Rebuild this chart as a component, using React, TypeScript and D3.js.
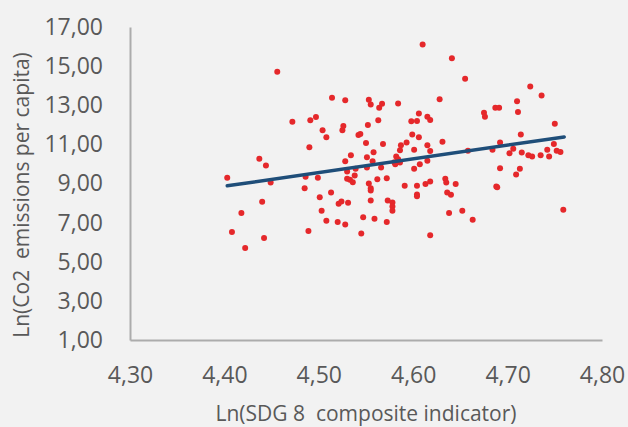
import { useEffect, useRef } from 'react'
import * as d3 from 'd3'

// Ln(SDG 8 composite indicator)
const sdgValues = [
  4.403, 4.408, 4.418, 4.422, 4.437, 4.440, 4.442, 4.444, 4.449, 4.456,
  4.472, 4.485, 4.486, 4.489, 4.490, 4.491, 4.497, 4.499, 4.501, 4.503,
  4.504, 4.508, 4.508, 4.513, 4.514, 4.520, 4.521, 4.524, 4.525, 4.526,
  4.528, 4.528, 4.528, 4.530, 4.530, 4.531, 4.533, 4.534, 4.536, 4.538,
  4.539, 4.542, 4.544, 4.545, 4.547, 4.550, 4.551, 4.551, 4.552, 4.553,
  4.553, 4.555, 4.555, 4.555, 4.555, 4.557, 4.558, 4.559, 4.562, 4.563,
  4.564, 4.566, 4.567, 4.568, 4.572, 4.572, 4.573, 4.578, 4.578, 4.578,
  4.580, 4.581, 4.582, 4.584, 4.584, 4.586, 4.586, 4.587, 4.591, 4.593,
  4.598, 4.599, 4.601, 4.601, 4.604, 4.604, 4.604, 4.604, 4.606, 4.606,
  4.607, 4.610, 4.613, 4.615, 4.615, 4.615, 4.618, 4.618, 4.618, 4.618,
  4.628, 4.631, 4.634, 4.635, 4.636, 4.638, 4.640, 4.641, 4.645, 4.652,
  4.655, 4.658, 4.663, 4.675, 4.676, 4.684, 4.687, 4.688, 4.689, 4.691,
  4.692, 4.692, 4.702, 4.706, 4.709, 4.710, 4.711, 4.713, 4.714, 4.715,
  4.722, 4.724, 4.726, 4.735, 4.736, 4.742, 4.744, 4.749, 4.750, 4.752,
  4.756, 4.759,
]

// Ln(Co2 emissions per capita)
const co2Values = [
  9.29, 6.52, 7.49, 5.70, 10.26, 8.07, 6.21, 9.92, 9.05, 14.71,
  12.16, 8.76, 9.34, 6.57, 10.85, 12.23, 12.40, 9.29, 8.30, 7.61,
  11.72, 11.36, 7.10, 8.54, 13.38, 7.03, 7.96, 8.08, 11.72, 11.94,
  10.14, 6.91, 13.26, 9.24, 9.61, 8.01, 9.19, 10.44, 9.07, 9.41,
  9.76, 11.48, 11.53, 6.45, 7.27, 11.07, 10.34, 9.82, 11.99, 13.28,
  9.00, 13.04, 8.76, 8.64, 8.13, 10.14, 10.60, 7.20, 9.22, 12.23,
  12.87, 9.82, 13.08, 11.02, 7.03, 9.27, 8.13, 8.03, 7.83, 7.61,
  10.09, 9.99, 10.38, 10.24, 13.09, 10.07, 10.70, 10.95, 8.88, 11.09,
  12.18, 11.50, 10.72, 9.76, 12.19, 8.44, 8.35, 8.88, 12.58, 11.36,
  9.99, 16.10, 8.97, 10.16, 12.41, 10.95, 9.10, 12.24, 10.66, 6.35,
  13.31, 11.14, 9.24, 9.05, 8.54, 7.49, 8.42, 15.40, 8.98, 7.61,
  14.35, 10.68, 7.15, 12.62, 12.41, 10.72, 12.87, 8.85, 8.81, 12.87,
  11.09, 9.78, 10.55, 10.78, 9.46, 13.21, 12.65, 9.76, 11.50, 10.58,
  10.44, 13.96, 10.38, 10.44, 13.50, 10.72, 10.38, 11.02, 12.06, 10.68,
  10.61, 7.66,
]

// linear trend line, read at its two ends
const trendX = [4.403, 4.760]
const trendY = [8.88, 11.38]

const xTicks = [4.3, 4.4, 4.5, 4.6, 4.7, 4.8]
const yTicks = [1, 3, 5, 7, 9, 11, 13, 15, 17]

const xTitle = 'Ln(SDG 8  composite indicator)'
const yTitle = 'Ln(Co2  emissions per capita)'

export default function App() {
  const ref = useRef<SVGSVGElement>(null)

  useEffect(() => {
    const width = 628,
      height = 427

    const svg = d3.select(ref.current)
    svg.selectAll('*').remove()

    const comma = d3.formatLocale({
      decimal: ',',
      thousands: '.',
      grouping: [3],
      currency: ['', ''],
    }).format('.2f')

    const x = d3.scaleLinear().domain([4.3, 4.8]).range([130, 602])
    const y = d3.scaleLinear().domain([1, 17]).range([340, 27])

    svg
      .append('rect')
      .attr('width', width)
      .attr('height', height)
      .attr('fill', '#f2f2f2')

    const font = "'Open Sans', sans-serif"

    const xAxis = svg
      .append('g')
      .attr('transform', 'translate(0,' + y(1) + ')')
      .call(
        d3.axisBottom(x).tickValues(xTicks).tickFormat((d) => comma(+d))
          .tickSize(0).tickSizeOuter(0).tickPadding(27),
      )
    const yAxis = svg
      .append('g')
      .attr('transform', 'translate(' + x(4.3) + ',0)')
      .call(
        d3.axisLeft(y).tickValues(yTicks).tickFormat((d) => comma(+d))
          .tickSize(0).tickSizeOuter(0).tickPadding(27),
      )

    ;[xAxis, yAxis].forEach((g) => {
      g.select('.domain').attr('stroke', '#acacac').attr('stroke-width', 2)
      g.selectAll('text')
        .attr('fill', '#595959')
        .style('font-family', font)
        .style('font-size', '23px')
    })

    const points = sdgValues.map((v, i) => ({ x: v, y: co2Values[i] }))

    svg
      .append('g')
      .selectAll('circle')
      .data(points)
      .enter()
      .append('circle')
      .attr('cx', (d) => x(d.x))
      .attr('cy', (d) => y(d.y))
      .attr('r', 3)
      .attr('fill', '#e5282b')

    const line = d3
      .line<number>()
      .x((d) => x(d))
      .y((d, i) => y(trendY[i]))

    svg
      .append('path')
      .datum(trendX)
      .attr('d', line)
      .attr('fill', 'none')
      .attr('stroke', '#1f4e79')
      .attr('stroke-width', 3.5)
      .attr('stroke-linecap', 'round')

    svg
      .append('text')
      .attr('x', 366)
      .attr('y', 421)
      .attr('text-anchor', 'middle')
      .attr('fill', '#595959')
      .style('font-family', font)
      .style('font-size', '21px')
      .style('white-space', 'pre')
      .text(xTitle)

    svg
      .append('text')
      .attr('transform', 'translate(22,195) rotate(-90)')
      .attr('dy', '0.35em')
      .attr('text-anchor', 'middle')
      .attr('fill', '#595959')
      .style('font-family', font)
      .style('font-size', '21px')
      .style('white-space', 'pre')
      .text(yTitle)
  }, [])

  return (
    <svg
      ref={ref}
      width={628}
      height={427}
      style={{ position: 'absolute', left: 0, top: 0, display: 'block' }}
    />
  )
}
